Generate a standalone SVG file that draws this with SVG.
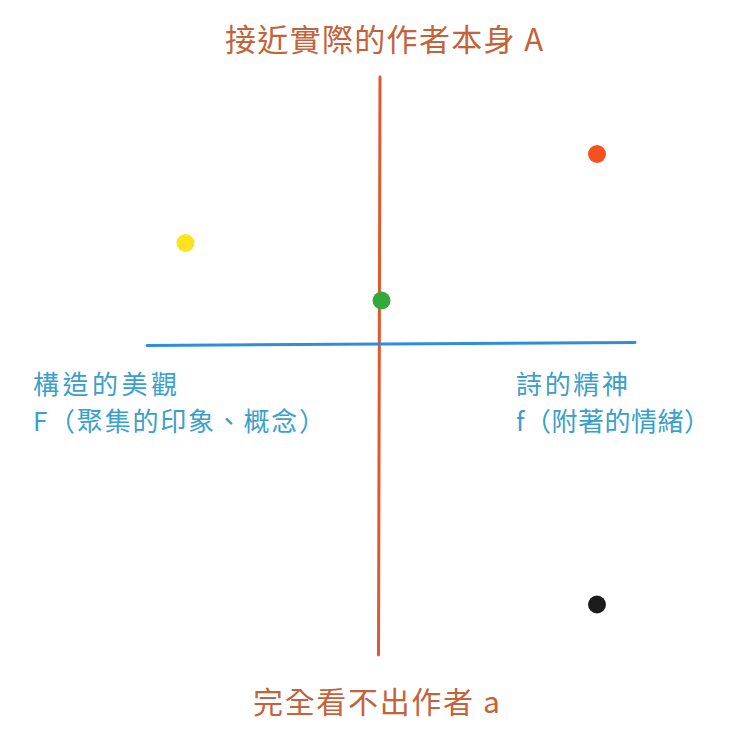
<svg xmlns="http://www.w3.org/2000/svg" width="740" height="748" viewBox="0 0 740 748">
<style>
text{font-family:"Noto Sans CJK TC","Noto Sans CJK SC",sans-serif}
.t-or{fill:#c4623a}
.t-bl{fill:#3a9fcc;font-size:26px}
.axis-v{stroke:#e2572c;stroke-width:3;stroke-linecap:round}
.axis-h{stroke:#2d8fdb;stroke-width:3;stroke-linecap:round}
</style>
<rect width="740" height="748" fill="#ffffff"/>
<g id="connectors">
<line class="axis-v" x1="380" y1="77" x2="378.5" y2="655"/>
<line class="axis-h" x1="147" y1="345.5" x2="635" y2="342.5"/>
</g>
<g id="label-top"><text class="t-or" x="225" y="51" font-size="31" textLength="318" lengthAdjust="spacing">接近實際的作者本身 A</text></g>
<g id="label-bottom"><text class="t-or" x="253" y="713" font-size="30" textLength="247" lengthAdjust="spacing">完全看不出作者 a</text></g>
<g id="label-left">
<text class="t-bl" x="33" y="394" textLength="144" lengthAdjust="spacing">構造的美觀</text>
<text class="t-bl" x="33" y="431" textLength="292" lengthAdjust="spacing">F（聚集的印象、概念）</text>
</g>
<g id="label-right">
<text class="t-bl" x="516" y="394" textLength="112" lengthAdjust="spacing">詩的精神</text>
<text class="t-bl" x="516" y="431" textLength="194" lengthAdjust="spacing">f（附著的情緒）</text>
</g>
<g id="dot-orange"><circle cx="597" cy="154" r="9" fill="#f4511e"/></g>
<g id="dot-yellow"><circle cx="185.5" cy="243" r="9" fill="#fde31f"/></g>
<g id="dot-green"><circle cx="381.5" cy="300.5" r="9" fill="#35a83a"/></g>
<g id="dot-black"><circle cx="597" cy="604.5" r="9" fill="#1c1c1c"/></g>
</svg>
